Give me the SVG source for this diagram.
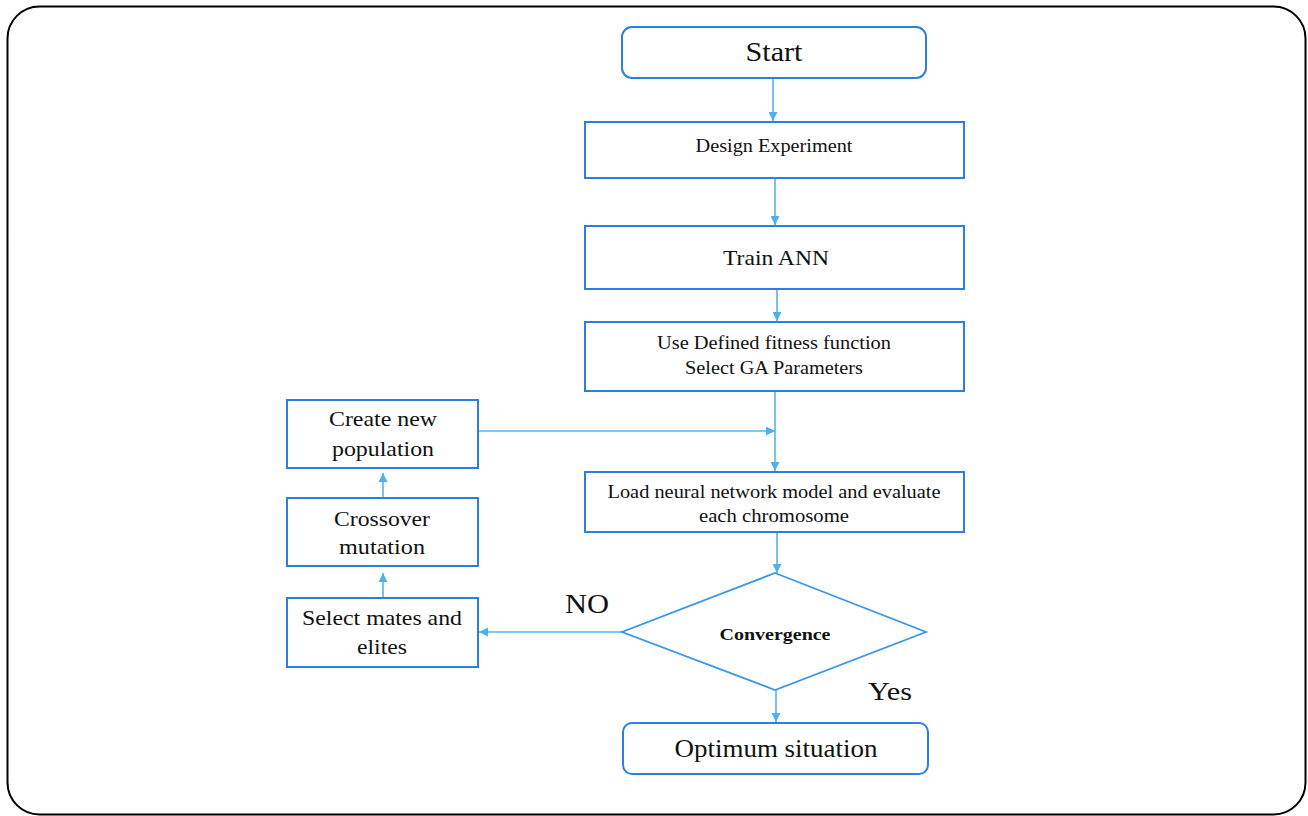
<svg xmlns="http://www.w3.org/2000/svg" width="1308" height="816" viewBox="0 0 1308 816">
<defs>
<marker id="ah" viewBox="0 0 10 10" refX="10" refY="5" markerWidth="9" markerHeight="9" markerUnits="userSpaceOnUse" orient="auto">
<path d="M0,0 L10,5 L0,10 z" fill="#4fb0ee"/>
</marker>
<style>
.box{fill:#fff;stroke:#2b7fe3;stroke-width:2}
.dia{fill:#fff;stroke:#3a97ea;stroke-width:1.8}
.c{fill:none;stroke:#55b5f0;stroke-width:1.6;marker-end:url(#ah)}
.t{font-family:'Liberation Serif','DejaVu Serif',serif;fill:#111;text-anchor:middle}
</style>
</defs>
<rect x="0" y="0" width="1308" height="816" fill="#fff"/>
<rect x="7.5" y="6.5" width="1298" height="808" rx="32" fill="#fff" stroke="#000" stroke-width="2"/>
<g id="connectors">
<line class="c" x1="773" y1="79" x2="773" y2="121"/>
<line class="c" x1="775" y1="179" x2="775" y2="225"/>
<line class="c" x1="777" y1="290" x2="777" y2="321"/>
<line class="c" x1="775" y1="392" x2="775" y2="471"/>
<line class="c" x1="479" y1="431" x2="775" y2="431"/>
<line class="c" x1="777" y1="533" x2="777" y2="573"/>
<line class="c" x1="622" y1="632" x2="479" y2="632"/>
<line class="c" x1="383" y1="598" x2="383" y2="573"/>
<line class="c" x1="383" y1="498" x2="383" y2="473"/>
<line class="c" x1="776" y1="690" x2="776" y2="722"/>
</g>
<g id="start">
<rect class="box" x="622" y="27" width="304" height="51" rx="10"/>
<text class="t" x="774" y="61" font-size="28" font-family="Liberation Serif, serif" textLength="57" lengthAdjust="spacingAndGlyphs">Start</text>
</g>
<g id="design">
<rect class="box" x="585" y="122" width="379" height="56"/>
<text class="t" x="774" y="152" font-size="18" font-family="Liberation Serif, serif" textLength="157" lengthAdjust="spacingAndGlyphs">Design Experiment</text>
</g>
<g id="train">
<rect class="box" x="585" y="226" width="379" height="63"/>
<text class="t" x="776" y="265" font-size="22" font-family="Liberation Serif, serif" textLength="106" lengthAdjust="spacingAndGlyphs">Train ANN</text>
</g>
<g id="fitness">
<rect class="box" x="585" y="322" width="379" height="69"/>
<text class="t" x="774" y="349" font-size="18" font-family="Liberation Serif, serif" textLength="234" lengthAdjust="spacingAndGlyphs">Use Defined fitness function</text>
<text class="t" x="774" y="374" font-size="18" font-family="Liberation Serif, serif" textLength="178" lengthAdjust="spacingAndGlyphs">Select GA Parameters</text>
</g>
<g id="create">
<rect class="box" x="287" y="400" width="191" height="68"/>
<text class="t" x="383" y="426" font-size="22" font-family="Liberation Serif, serif" textLength="108" lengthAdjust="spacingAndGlyphs">Create new</text>
<text class="t" x="383" y="456" font-size="22" font-family="Liberation Serif, serif" textLength="102" lengthAdjust="spacingAndGlyphs">population</text>
</g>
<g id="crossover">
<rect class="box" x="287" y="498" width="191" height="68"/>
<text class="t" x="382" y="526" font-size="22" font-family="Liberation Serif, serif" textLength="96" lengthAdjust="spacingAndGlyphs">Crossover</text>
<text class="t" x="382" y="554" font-size="22" font-family="Liberation Serif, serif" textLength="86" lengthAdjust="spacingAndGlyphs">mutation</text>
</g>
<g id="select">
<rect class="box" x="287" y="598" width="191" height="69"/>
<text class="t" x="382" y="625" font-size="22" font-family="Liberation Serif, serif" textLength="160" lengthAdjust="spacingAndGlyphs">Select mates and</text>
<text class="t" x="382" y="654" font-size="22" font-family="Liberation Serif, serif" textLength="50" lengthAdjust="spacingAndGlyphs">elites</text>
</g>
<g id="load">
<rect class="box" x="585" y="472" width="379" height="60"/>
<text class="t" x="774" y="498" font-size="18" font-family="Liberation Serif, serif" textLength="333" lengthAdjust="spacingAndGlyphs">Load neural network model and evaluate</text>
<text class="t" x="774" y="522" font-size="18" font-family="Liberation Serif, serif" textLength="150" lengthAdjust="spacingAndGlyphs">each chromosome</text>
</g>
<g id="convergence">
<polygon class="dia" points="775,573 926,632 775,690 622,632"/>
<text class="t" x="775" y="640" font-size="17" font-weight="bold" font-family="Liberation Serif, serif" textLength="111" lengthAdjust="spacingAndGlyphs">Convergence</text>
</g>
<g id="optimum">
<rect class="box" x="623" y="723" width="305" height="51" rx="9"/>
<text class="t" x="776" y="757" font-size="25" font-family="Liberation Serif, serif" textLength="203" lengthAdjust="spacingAndGlyphs">Optimum situation</text>
</g>
<g id="labels">
<text class="t" x="587" y="613" font-size="28" font-family="Liberation Serif, serif" textLength="44" lengthAdjust="spacingAndGlyphs">NO</text>
<text class="t" x="890" y="700" font-size="26" font-family="Liberation Serif, serif" textLength="44" lengthAdjust="spacingAndGlyphs">Yes</text>
</g>
</svg>
